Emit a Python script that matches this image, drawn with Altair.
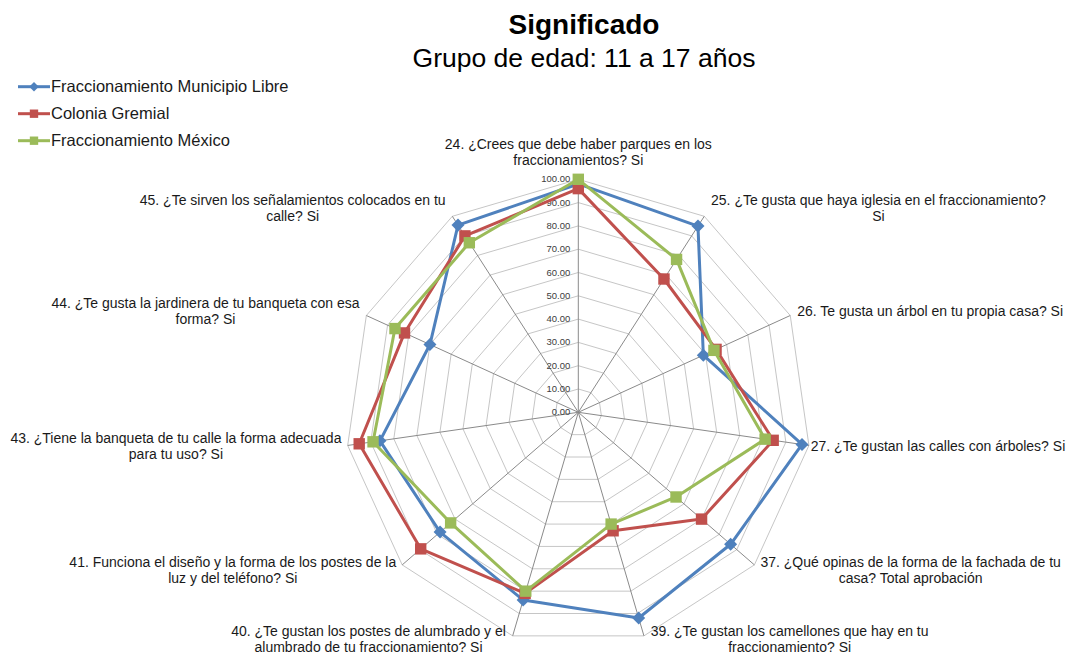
import math
import altair as alt
import pandas as pd

# ---------------- data ----------------
categorias = [
    "24. ¿Crees que debe haber parques en los\nfraccionamientos? Si",
    "25. ¿Te gusta que haya iglesia en el fraccionamiento?\nSi",
    "26. Te gusta un árbol en tu propia casa? Si",
    "27. ¿Te gustan las calles con árboles? Si",
    "37. ¿Qué opinas de la forma de la fachada de tu\ncasa? Total aprobación",
    "39. ¿Te gustan los camellones que hay en tu\nfraccionamiento? Si",
    "40. ¿Te gustan los postes de alumbrado y el\nalumbrado de tu fraccionamiento? Si",
    "41. Funciona el diseño y la forma de los postes de la\nluz y del teléfono? Si",
    "43. ¿Tiene la banqueta de tu calle la forma adecuada\npara tu uso? Si",
    "44. ¿Te gusta la jardinera de tu banqueta con esa\nforma? Si",
    "45. ¿Te sirven los señalamientos colocados en tu\ncalle? Si",
]
series = ["Fraccionamiento Municipio Libre", "Colonia Gremial", "Fraccionamiento México"]
municipio_libre = [98, 95, 59, 97, 86.5, 92, 84, 78.5, 86, 70, 95.5]
colonia_gremial = [96, 68, 65, 84.5, 70, 53, 81, 89.5, 95, 82, 90]
fracc_mexico = [100, 78, 64, 81, 55.5, 50, 80, 72.5, 89, 86.5, 86.5]
valores = [municipio_libre, colonia_gremial, fracc_mexico]
niveles = [0, 10, 20, 30, 40, 50, 60, 70, 80, 90, 100]
etiquetas_nivel = ["0.00", "10.00", "20.00", "30.00", "40.00", "50.00",
                   "60.00", "70.00", "80.00", "90.00", "100.00"]
titulo = "Significado"
subtitulo = "Grupo de edad: 11 a 17 años"

# ---------------- styles / layout ----------------
colores = ["#4F81BD", "#C0504D", "#9BBB59"]
formas = ["diamond", "square", "square"]
tamanos = [170, 130, 130]
FONT = "Liberation Sans"
W, H = 1060, 647
CX, CY, K = 570.3, 404.3, 2.33   # center (px) and px per unit
N = len(categorias)
LABEL_FS = 14
LH = 16

xs = alt.Scale(domain=[-CX / K, (W - CX) / K], nice=False, zero=False)
ys = alt.Scale(domain=[-(H - CY) / K, CY / K], nice=False, zero=False)

ARIAL = {}
for c in "iljíI'": ARIAL[c] = 222
for c in " .,:ft": ARIAL[c] = 278
ARIAL["r"] = 333
for c in "csvxyzk": ARIAL[c] = 500
ARIAL["m"] = 833; ARIAL["w"] = 722; ARIAL["¿"] = 611; ARIAL["T"] = 611
ARIAL["F"] = 611; ARIAL["S"] = 667; ARIAL["C"] = 722; ARIAL["Q"] = 778


def ancho(txt, fs):
    return sum(ARIAL.get(ch, 556) for ch in txt) * fs / 1000.0


X = lambda f: alt.X(f, type="quantitative", scale=xs, axis=None)
Y = lambda f: alt.Y(f, type="quantitative", scale=ys, axis=None)

ang_expr = "datum.idx * 2 * PI / %d" % N

# ---------------- grid ----------------
rings = pd.DataFrame([{"nivel": lv, "idx": i} for lv in niveles[1:] for i in range(N + 1)])
grid = alt.Chart(rings).transform_calculate(
    ang=ang_expr
).transform_calculate(
    gx="datum.nivel * sin(datum.ang)", gy="datum.nivel * cos(datum.ang)"
).mark_line(color="#c6c6c6", strokeWidth=1).encode(
    x=X("gx"), y=Y("gy"), detail="nivel:N", order="idx:Q"
)

spk = pd.DataFrame({"idx": list(range(N)), "fin": [niveles[-1]] * N})
spokes = alt.Chart(spk).transform_calculate(
    ang=ang_expr
).transform_calculate(
    sx="0", sy="0", ex="datum.fin * sin(datum.ang)", ey="datum.fin * cos(datum.ang)"
).mark_rule(color="#8a8a8a", strokeWidth=1).encode(
    x=X("sx"), y=Y("sy"), x2="ex:Q", y2="ey:Q"
)

tick_df = pd.DataFrame({"nivel": niveles, "txt": etiquetas_nivel, "off": [-8 / K] * len(niveles)})
ticks = alt.Chart(tick_df).mark_text(
    align="right", baseline="middle", fontSize=9.5, font=FONT, color="#404040"
).encode(x=X("off"), y=Y("nivel"), text="txt:N")

# ---------------- category labels ----------------
rows = []
for i, txt in enumerate(categorias):
    a = i * 2 * math.pi / N
    s, c = math.sin(a), math.cos(a)
    px = CX + K * 100 * s
    py = CY - K * 100 * c
    lines = txt.split("\n")
    hw = max(ancho(l, LABEL_FS) for l in lines) / 2
    if abs(s) < 0.1:
        cx, cy = px, py - 26
    elif s > 0:
        cx, cy = px + 6 + hw, py - 9 * c
    else:
        cx, cy = px - 6 - hw, py - 9 * c
    cx = max(min(cx, W - hw - 2), hw + 1)   # keep inside the canvas
    if c < -0.9:
        cy -= 4          # keep the lowest labels inside the canvas
    cy -= (len(lines) - 1) * LH / 2.0   # first-line position for a centred block
    rows.append({"texto": txt, "lx": (cx - CX) / K, "ly": (CY - cy) / K})
lab_df = pd.DataFrame(rows)
labels = alt.Chart(lab_df).mark_text(
    align="center", baseline="middle", fontSize=LABEL_FS, font=FONT,
    color="#1a1a1a", lineBreak="\n", lineHeight=LH
).encode(x=X("lx"), y=Y("ly"), text="texto:N")

# ---------------- series ----------------
capas = []
for k, (nombre, vals) in enumerate(zip(series, valores)):
    df = pd.DataFrame({"serie": nombre, "idx": list(range(N + 1)),
                       "valor": vals + [vals[0]]})
    base = alt.Chart(df).transform_calculate(
        ang=ang_expr
    ).transform_calculate(
        vx="datum.valor * sin(datum.ang)", vy="datum.valor * cos(datum.ang)"
    )
    linea = base.mark_line(color=colores[k], strokeWidth=3, strokeJoin="round").encode(
        x=X("vx"), y=Y("vy"), order="idx:Q"
    )
    puntos = base.transform_filter("datum.idx < %d" % N).mark_point(
        shape=formas[k], filled=True, size=tamanos[k], color=colores[k], opacity=1
    ).encode(x=X("vx"), y=Y("vy"))
    capas += [linea, puntos]

# ---------------- legend (manual) ----------------
leyenda = []
for k, nombre in enumerate(series):
    yy = 78.7 + 27 * k
    d = pd.DataFrame({"serie": [nombre]})
    leyenda.append(alt.Chart(d).mark_rule(color=colores[k], strokeWidth=3).encode(
        x=alt.value(10), x2=alt.value(42), y=alt.value(yy)))
    leyenda.append(alt.Chart(d).mark_point(
        shape=formas[k], filled=True, size=[90, 70, 70][k], color=colores[k], opacity=1
    ).encode(x=alt.value(26), y=alt.value(yy)))
    leyenda.append(alt.Chart(d).mark_text(
        align="left", baseline="middle", fontSize=16.5, font=FONT, color="#1a1a1a"
    ).encode(x=alt.value(43), y=alt.value(yy), text="serie:N"))

# ---------------- title ----------------
tdf = pd.DataFrame({"t": [titulo], "s": [subtitulo]})
tit = alt.Chart(tdf).mark_text(
    align="center", baseline="alphabetic", fontSize=28, fontWeight="bold", font=FONT, color="#000000"
).encode(x=alt.value(576), y=alt.value(26), text="t:N")
sub = alt.Chart(tdf).mark_text(
    align="center", baseline="alphabetic", fontSize=26.5, font=FONT, color="#000000"
).encode(x=alt.value(576), y=alt.value(59), text="s:N")

chart = alt.layer(
    grid, spokes, ticks, labels, *capas, *leyenda, tit, sub
).properties(
    width=W, height=H, padding=0, autosize="none", background="white"
).configure_view(stroke=None)

chart.save("out.html", embed_options={"renderer": "svg", "actions": False})
